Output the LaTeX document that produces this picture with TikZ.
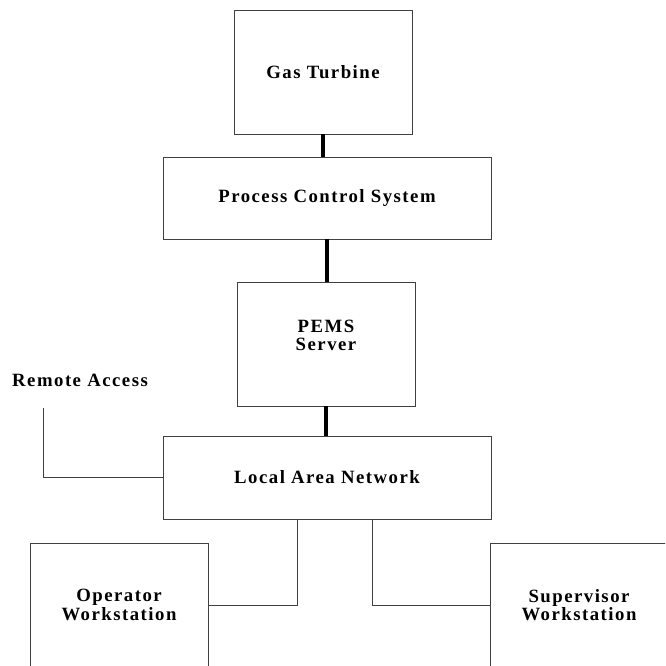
\documentclass[tikz,border=0pt]{standalone}
\usepackage{fontspec}
\setmainfont{Liberation Serif}[LetterSpace=8]
\usetikzlibrary{positioning}

\begin{document}
\begin{tikzpicture}[x=0.03cm, y=0.03cm,
    box/.style={draw=black!75, line width=0.8pt, align=center,
      font=\bfseries\fontsize{16}{15.5}\selectfont},
    link/.style={line width=2.6pt},
    wire/.style={draw=black!75, line width=0.8pt}]
  \useasboundingbox (0,0) rectangle (665,666);
  \clip (0,0) rectangle (665,666);

  % Boxes
  \node[box, minimum width=5.34cm, minimum height=3.72cm] (gas) at (323,594) {Gas Turbine};
  \node[box, minimum width=9.84cm, minimum height=2.46cm] (pcs) at (327,468) {Process Control System};
  \node[box, minimum width=5.34cm, minimum height=3.72cm] (pems) at (326,322) {PEMS\\Server\\\mbox{}};
  \node[box, minimum width=9.84cm, minimum height=2.49cm] (lan) at (327,188.5) {Local Area Network};
  \node[box, minimum width=5.34cm, minimum height=3.72cm] (opws) at (119,61) {Operator\\Workstation};
  \node[box, minimum width=5.34cm, minimum height=3.72cm] (supws) at (579,61) {Supervisor\\Workstation};

  % Remote access
  \node[font=\bfseries\fontsize{16}{15.5}\selectfont] (remote) at (80,286) {Remote Access};
  \coordinate (remend) at (43,258);

  % Thick links
  \draw[link] (gas.south) -- (gas.south |- pcs.north);
  \draw[link] (pcs.south) -- (pcs.south |- pems.north);
  \draw[link] (pems.south) -- (pems.south |- lan.north);

  % Network wires
  \draw[wire] (remend) |- (lan.west);
  \draw[wire] (lan.south) ++(-30,0) |- (opws.east);
  \draw[wire] (lan.south) ++(45,0) |- (supws.west);
\end{tikzpicture}
\end{document}
